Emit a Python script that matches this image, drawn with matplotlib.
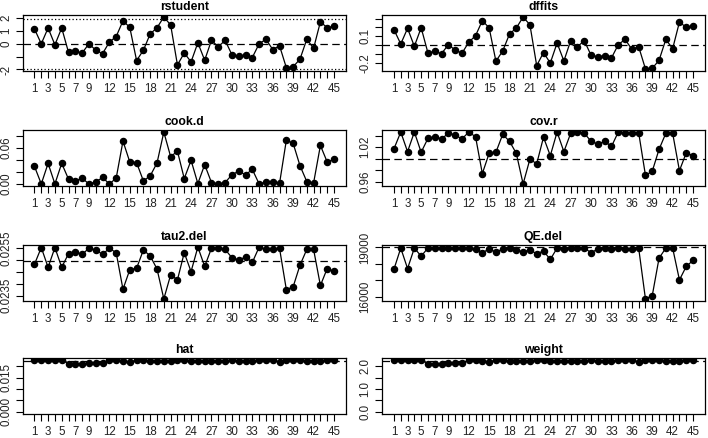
import numpy as np
import matplotlib.pyplot as plt

plt.rcParams['font.family'] = ['Liberation Sans', 'DejaVu Sans']

# study index
study = np.arange(1, 46)

rstudent = [1.15, 0.00, 1.23, -0.08, 1.23, -0.67, -0.59, -0.72, 0.00, -0.50,
            -0.77, 0.13, 0.56, 1.79, 1.28, -1.31, -0.50, 0.77, 1.25, 2.08,
            1.47, -1.65, -0.72, -1.41, 0.08, -1.28, 0.27, -0.24, 0.27, -0.85,
            -0.99, -0.85, -1.07, 0.00, 0.35, -0.45, -0.16, -1.87, -1.79, -1.20,
            0.35, -0.35, 1.71, 1.25, 1.36]

dffits = [0.175, 0.014, 0.190, -0.012, 0.197, -0.087, -0.069, -0.095, 0.006, -0.054,
          -0.091, 0.033, 0.107, 0.276, 0.197, -0.180, -0.065, 0.126, 0.194, 0.317,
          0.231, -0.230, -0.083, -0.200, 0.025, -0.177, 0.051, -0.016, 0.051, -0.113,
          -0.132, -0.117, -0.143, 0.006, 0.066, -0.046, -0.016, -0.267, -0.260, -0.170,
          0.066, -0.039, 0.261, 0.201, 0.216]

cook_d = [0.0294, 0.0000, 0.0345, 0.0000, 0.0345, 0.0080, 0.0050, 0.0096, 0.0000, 0.0034,
          0.0108, 0.0000, 0.0096, 0.0719, 0.0368, 0.0357, 0.0050, 0.0136, 0.0351, 0.0870,
          0.0458, 0.0549, 0.0090, 0.0396, 0.0006, 0.0323, 0.0023, 0.0000, 0.0023, 0.0153,
          0.0215, 0.0153, 0.0243, 0.0000, 0.0034, 0.0034, 0.0011, 0.0736, 0.0680, 0.0306,
          0.0040, 0.0017, 0.0645, 0.0368, 0.0413]

cov_r = [1.017, 1.046, 1.012, 1.046, 1.011, 1.035, 1.038, 1.034, 1.044, 1.041,
         1.034, 1.046, 1.038, 0.974, 1.009, 1.011, 1.042, 1.030, 1.009, 0.956,
         0.999, 0.991, 1.037, 1.005, 1.046, 1.012, 1.044, 1.046, 1.044, 1.030,
         1.025, 1.030, 1.021, 1.046, 1.044, 1.044, 1.045, 0.971, 0.978, 1.016,
         1.044, 1.044, 0.979, 1.010, 1.005]

tau2_del = [0.02483, 0.02554, 0.02470, 0.02554, 0.02470, 0.02528, 0.02535, 0.02525, 0.02551, 0.02544,
            0.02525, 0.02551, 0.02532, 0.02377, 0.02460, 0.02466, 0.02544, 0.02518, 0.02463, 0.02336,
            0.02438, 0.02417, 0.02532, 0.02452, 0.02556, 0.02474, 0.02551, 0.02554, 0.02546, 0.02511,
            0.02501, 0.02514, 0.02491, 0.02556, 0.02546, 0.02546, 0.02550, 0.02375, 0.02388, 0.02479,
            0.02546, 0.02546, 0.02393, 0.02465, 0.02453]

qe_del = [17680, 18960, 17720, 18960, 18470, 18960, 18960, 18960, 18960, 18960,
          18960, 18960, 18900, 18680, 18900, 18720, 18900, 18960, 18840, 18740,
          18840, 18620, 18780, 18270, 18960, 18920, 18960, 18960, 18960, 18680,
          18900, 18960, 18920, 18960, 18920, 18920, 18960, 15880, 16080, 18350,
          18960, 18960, 17030, 17850, 18210]

hat = [0.0226, 0.0226, 0.0226, 0.0226, 0.0226, 0.0211, 0.0210, 0.0210, 0.0213, 0.0213,
       0.0213, 0.0226, 0.0225, 0.0224, 0.0217, 0.0226, 0.0226, 0.0220, 0.0223, 0.0223,
       0.0223, 0.0225, 0.0225, 0.0224, 0.0224, 0.0222, 0.0223, 0.0222, 0.0222, 0.0225,
       0.0223, 0.0222, 0.0222, 0.0225, 0.0225, 0.0225, 0.0218, 0.0225, 0.0225, 0.0225,
       0.0224, 0.0222, 0.0224, 0.0225, 0.0226]

weight = [2.26, 2.26, 2.26, 2.26, 2.26, 2.11, 2.10, 2.10, 2.13, 2.13,
          2.13, 2.26, 2.25, 2.24, 2.17, 2.26, 2.26, 2.20, 2.23, 2.23,
          2.23, 2.25, 2.25, 2.24, 2.24, 2.22, 2.23, 2.22, 2.22, 2.25,
          2.23, 2.22, 2.22, 2.25, 2.25, 2.25, 2.18, 2.25, 2.25, 2.25,
          2.24, 2.22, 2.24, 2.25, 2.26]

# reference lines
tau2_full = 0.02498
qe_full = 19020
hat_avg = 1 / 45
weight_avg = 100 / 45

xlabel_shown = [1, 3, 5, 7, 9, 12, 15, 18, 21, 24, 27, 30, 33, 36, 39, 42, 45]

W, H = 708, 438
cols_px = [(22.5, 346), (382, 705)]
rows_px = [(15, 71), (130, 186), (245, 301), (358, 414)]


def make_ax(fig, row, col):
    x0, x1 = cols_px[col]
    y0, y1 = rows_px[row]
    return fig.add_axes([x0 / W, 1 - y1 / H, (x1 - x0) / W, (y1 - y0) / H])


def panel(ax, title, values, ticks, labels, refs=(), dotted=(), zero_floor=False):
    ax.plot(study, values, color='black', lw=0.9, marker='o', markersize=4.4)
    for r in refs:
        ax.axhline(r, color='black', lw=0.9, dashes=(6, 3.5))
    for r in dotted:
        ax.axhline(r, color='black', lw=0.9, dashes=(1, 1.8))
    allv = list(values) + list(refs) + list(dotted)
    lo = 0 if zero_floor else min(allv)
    hi = max(allv)
    pad = 0.04 * (hi - lo)
    ax.set_ylim(lo - pad, hi + pad)
    ax.set_xlim(1 - 0.04 * 44, 45 + 0.04 * 44)
    ax.set_xticks(study)
    ax.set_xticklabels([str(i) if i in xlabel_shown else '' for i in study])
    ax.set_yticks(ticks)
    ax.set_yticklabels(labels, rotation=90, va='center')
    ax.tick_params(axis='both', direction='out', length=5, width=0.8,
                   labelsize=8.3, pad=2.5, color='black', labelcolor='#222222')
    ax.tick_params(axis='x', length=5, pad=3.5)
    for s in ax.spines.values():
        s.set_linewidth(0.9)
    ax.set_title(title, fontsize=8.8, fontweight='bold', pad=3.5)


def main():
    fig = plt.figure(figsize=(W / 100, H / 100), dpi=100)

    panel(make_ax(fig, 0, 0), 'rstudent', rstudent,
          [-2, -1, 0, 1, 2], ['-2', '', '0', '1', '2'],
          refs=[0], dotted=[-1.96, 1.96])
    panel(make_ax(fig, 0, 1), 'dffits', dffits,
          [-0.2, -0.1, 0, 0.1, 0.2, 0.3], ['-0.2', '', '', '0.1', '', ''],
          refs=[0])
    panel(make_ax(fig, 1, 0), 'cook.d', cook_d,
          [0, 0.02, 0.04, 0.06, 0.08], ['0.00', '', '', '0.06', ''])
    panel(make_ax(fig, 1, 1), 'cov.r', cov_r,
          [0.96, 0.98, 1.00, 1.02, 1.04], ['0.96', '', '', '1.02', ''],
          refs=[1])
    panel(make_ax(fig, 2, 0), 'tau2.del', tau2_del,
          [0.0235, 0.0240, 0.0245, 0.0250, 0.0255], ['0.0235', '', '', '', '0.0255'],
          refs=[tau2_full])
    panel(make_ax(fig, 2, 1), 'QE.del', qe_del,
          [16000, 17000, 18000, 19000], ['16000', '', '', '19000'],
          refs=[qe_full])
    panel(make_ax(fig, 3, 0), 'hat', hat,
          [0, 0.005, 0.010, 0.015, 0.020], ['0.000', '', '', '0.015', ''],
          refs=[hat_avg], zero_floor=True)
    panel(make_ax(fig, 3, 1), 'weight', weight,
          [0, 0.5, 1.0, 1.5, 2.0], ['0.0', '', '1.0', '', '2.0'],
          refs=[weight_avg], zero_floor=True)

    fig.savefig('out.png', dpi=100)


if __name__ == '__main__':
    main()
